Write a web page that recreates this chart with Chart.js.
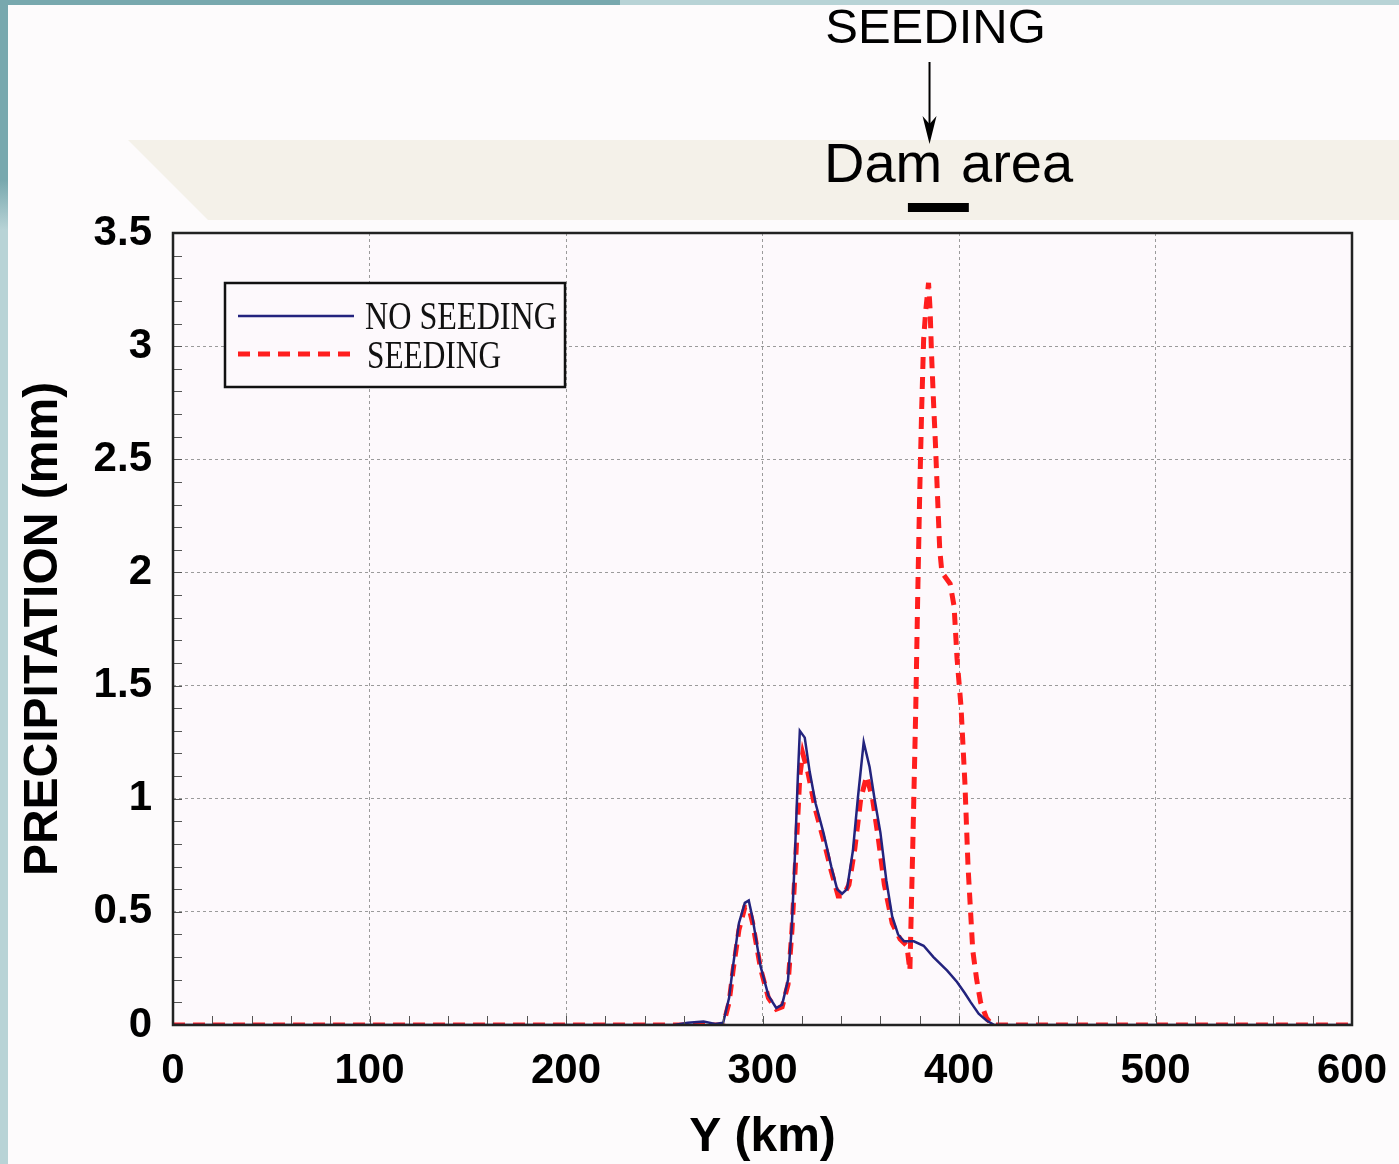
<!DOCTYPE html>
<html>
<head>
<meta charset="utf-8">
<script src="https://cdn.jsdelivr.net/npm/chart.js@4.4.1/dist/chart.umd.min.js"></script>
<style>
  body { margin: 0; background: #fdfbfc; }
  #wrap { position: relative; width: 1399px; height: 1164px; overflow: hidden; }
  .strip-top { position: absolute; left: 0; top: 0; width: 1399px; height: 5px;
    background: linear-gradient(to right, #78a8ae 0, #78a8ae 620px, #b8d3d6 620px); }
  .strip-left { position: absolute; left: 0; top: 0; width: 8px; height: 1164px;
    background: linear-gradient(to bottom, #78a8ae 0, #78a8ae 180px, #b8d3d6 230px); }
  .band { position: absolute; left: 8px; top: 140px; width: 1391px; height: 80px;
    background: #f4f1e9; clip-path: polygon(120px 0, 100% 0, 100% 100%, 200px 100%); }
  canvas { position: absolute; left: 0; top: 0; }
</style>
</head>
<body>
<div id="wrap">
  <div class="strip-top"></div>
  <div class="strip-left"></div>
  <div class="band"></div>
  <canvas id="precipChart" width="1399" height="1164"></canvas>
</div>
<script>
// Y (km) and precipitation (mm)
const noSeedKm = [0, 255, 262, 270, 276, 280, 283, 285, 288, 291, 293, 295, 299, 303, 307, 310, 313, 315, 316.5, 318, 319, 321.5, 324, 327, 331, 335, 338, 340.5, 343, 346, 348.5, 351.5, 354.5, 357, 360, 363, 366, 369, 372, 377, 382, 387, 394, 399, 403, 406, 410, 414, 418, 600];
const noSeedMm = [0, 0, 0.01, 0.015, 0.005, 0.01, 0.12, 0.26, 0.45, 0.54, 0.55, 0.47, 0.26, 0.13, 0.075, 0.09, 0.2, 0.45, 0.75, 1.1, 1.3, 1.27, 1.12, 0.98, 0.85, 0.7, 0.6, 0.58, 0.6, 0.77, 1.0, 1.25, 1.14, 1.0, 0.85, 0.64, 0.48, 0.4, 0.37, 0.37, 0.35, 0.3, 0.24, 0.19, 0.14, 0.1, 0.05, 0.02, 0, 0];

const seedKm = [0, 280, 283, 285, 288, 291, 293, 295, 299, 303, 307, 310, 313, 315, 317, 319, 320.5, 323, 327, 331, 335, 338.5, 341, 344, 347, 350, 353, 356, 359, 362, 366, 370, 373.5, 375, 376.5, 378, 379, 380, 381, 382, 383, 384.5, 385.3, 386, 387, 388, 389, 390.2, 391.3, 393, 395.5, 397.5, 399, 401, 403, 404.6, 407, 409, 411, 414, 417, 600];
const seedMm = [0, 0, 0.1, 0.24, 0.42, 0.52, 0.52, 0.45, 0.25, 0.12, 0.07, 0.08, 0.18, 0.42, 0.75, 1.1, 1.2, 1.12, 0.95, 0.82, 0.68, 0.57, 0.57, 0.62, 0.78, 1.0, 1.1, 1.0, 0.82, 0.62, 0.45, 0.38, 0.35, 0.24, 0.8, 1.4, 1.9, 2.35, 2.72, 3.03, 3.15, 3.28, 3.16, 2.97, 2.76, 2.57, 2.35, 2.1, 2.0, 1.98, 1.95, 1.85, 1.62, 1.41, 1.07, 0.7, 0.33, 0.2, 0.1, 0.03, 0, 0];

// annotation above the plot
const seedingKm = 385;
const damAreaKm = [374, 405];

const seriesLabels = ['NO SEEDING', 'SEEDING'];

const toPoints = (xs, ys) => xs.map((x, i) => ({ x: x, y: ys[i] }));

// plot background, frame, minor ticks, legend and header notes
const figurePlugin = {
  id: 'figure',
  beforeDraw(chart) {
    const { ctx, chartArea: a } = chart;
    ctx.save();
    ctx.fillStyle = '#fdf9fc';
    ctx.fillRect(a.left, a.top, a.right - a.left, a.bottom - a.top);
    ctx.restore();
  },
  afterDraw(chart) {
    const { ctx, chartArea: a } = chart;
    const xs = chart.scales.x;
    const ys = chart.scales.y;
    ctx.save();

    // minor ticks pointing inward
    ctx.strokeStyle = '#555';
    ctx.lineWidth = 1;
    ctx.beginPath();
    for (let v = 20; v < 600; v += 20) {
      const px = Math.round(xs.getPixelForValue(v)) + 0.5;
      ctx.moveTo(px, a.bottom);
      ctx.lineTo(px, a.bottom - 9);
    }
    for (let i = 1; i < 35; i++) {
      const py = Math.round(ys.getPixelForValue(i / 10)) + 0.5;
      ctx.moveTo(a.left, py);
      ctx.lineTo(a.left + 9, py);
    }
    ctx.stroke();

    // frame
    ctx.strokeStyle = '#222';
    ctx.lineWidth = 2.5;
    ctx.strokeRect(a.left, a.top, a.right - a.left, a.bottom - a.top);

    // legend box
    ctx.fillStyle = '#fdf9fc';
    ctx.fillRect(225, 283, 340, 104);
    ctx.strokeStyle = '#111';
    ctx.lineWidth = 2.5;
    ctx.strokeRect(225, 283, 340, 104);
    const sets = chart.data.datasets;
    const rows = [316, 354];
    sets.forEach((ds, i) => {
      ctx.beginPath();
      ctx.strokeStyle = ds.borderColor;
      ctx.lineWidth = ds.borderWidth;
      ctx.setLineDash(ds.borderDash || []);
      ctx.moveTo(238, rows[i]);
      ctx.lineTo(354, rows[i]);
      ctx.stroke();
    });
    ctx.setLineDash([]);
    ctx.fillStyle = '#111';
    ctx.font = '40px "Liberation Serif", "DejaVu Serif", serif';
    ctx.textBaseline = 'middle';
    ctx.textAlign = 'left';
    ctx.fillText(sets[0].label, 365, 318, 192);
    ctx.fillText(sets[1].label, 367, 357, 134);

    // header: SEEDING arrow and dam area
    const ax = xs.getPixelForValue(seedingKm);
    ctx.fillStyle = '#000';
    ctx.font = '49px "Liberation Sans", Arial, sans-serif';
    ctx.textAlign = 'center';
    ctx.fillText('SEEDING', ax + 6, 29);

    ctx.strokeStyle = '#000';
    ctx.lineWidth = 2;
    ctx.beginPath();
    ctx.moveTo(ax, 62);
    ctx.lineTo(ax, 128);
    ctx.stroke();
    ctx.beginPath();
    ctx.moveTo(ax, 144);
    ctx.lineTo(ax - 7, 116);
    ctx.lineTo(ax, 124);
    ctx.lineTo(ax + 7, 116);
    ctx.closePath();
    ctx.fill();

    ctx.font = '56px "Liberation Sans", Arial, sans-serif';
    ctx.textAlign = 'left';
    ctx.fillText('Dam', 824, 167);
    ctx.fillText('area', 961, 167);

    const d0 = xs.getPixelForValue(damAreaKm[0]);
    const d1 = xs.getPixelForValue(damAreaKm[1]);
    ctx.fillRect(d0, 203, d1 - d0, 9);

    ctx.restore();
  }
};

const tickFont = { family: '"Liberation Sans", Arial, sans-serif', size: 42, weight: 'bold' };
const titleFont = { family: '"Liberation Sans", Arial, sans-serif', size: 48, weight: 'bold', lineHeight: 1 };

new Chart(document.getElementById('precipChart'), {
  type: 'line',
  data: {
    datasets: [
      {
        label: seriesLabels[0],
        data: toPoints(noSeedKm, noSeedMm),
        borderColor: '#23237e',
        borderWidth: 2.5,
        pointRadius: 0,
        tension: 0,
        fill: false
      },
      {
        label: seriesLabels[1],
        data: toPoints(seedKm, seedMm),
        borderColor: '#ff1e1e',
        borderWidth: 5,
        borderDash: [12, 8],
        pointRadius: 0,
        tension: 0,
        fill: false
      }
    ]
  },
  options: {
    responsive: false,
    animation: false,
    layout: { padding: { top: 233, right: 47, left: 0, bottom: 0 } },
    plugins: {
      legend: { display: false },
      tooltip: { enabled: false }
    },
    scales: {
      x: {
        type: 'linear',
        min: 0,
        max: 600,
        afterFit: (scale) => {
          scale.height = 139;
          scale.paddingLeft = 0;
          scale.paddingRight = 0;
        },
        ticks: {
          stepSize: 100,
          padding: 21,
          color: '#000',
          font: tickFont,
          maxRotation: 0
        },
        grid: { color: '#9b9b9b', lineWidth: 1, drawTicks: false },
        border: { display: false, dash: [3, 3] },
        title: {
          display: true,
          text: 'Y (km)',
          color: '#000',
          font: titleFont,
          padding: { top: 0, bottom: 2 }
        }
      },
      y: {
        min: 0,
        max: 3.5,
        afterFit: (scale) => {
          scale.width = 173;
          scale.paddingTop = 0;
          scale.paddingBottom = 0;
        },
        ticks: {
          stepSize: 0.5,
          padding: 21,
          color: '#000',
          font: tickFont,
          callback: (value) => `${value}`
        },
        grid: { color: '#9b9b9b', lineWidth: 1, drawTicks: false },
        border: { display: false, dash: [3, 3] },
        title: {
          display: true,
          text: 'PRECIPITATION (mm)',
          color: '#000',
          font: titleFont,
          padding: { top: 20, bottom: 0 }
        }
      }
    }
  },
  plugins: [figurePlugin]
});
</script>
</body>
</html>
